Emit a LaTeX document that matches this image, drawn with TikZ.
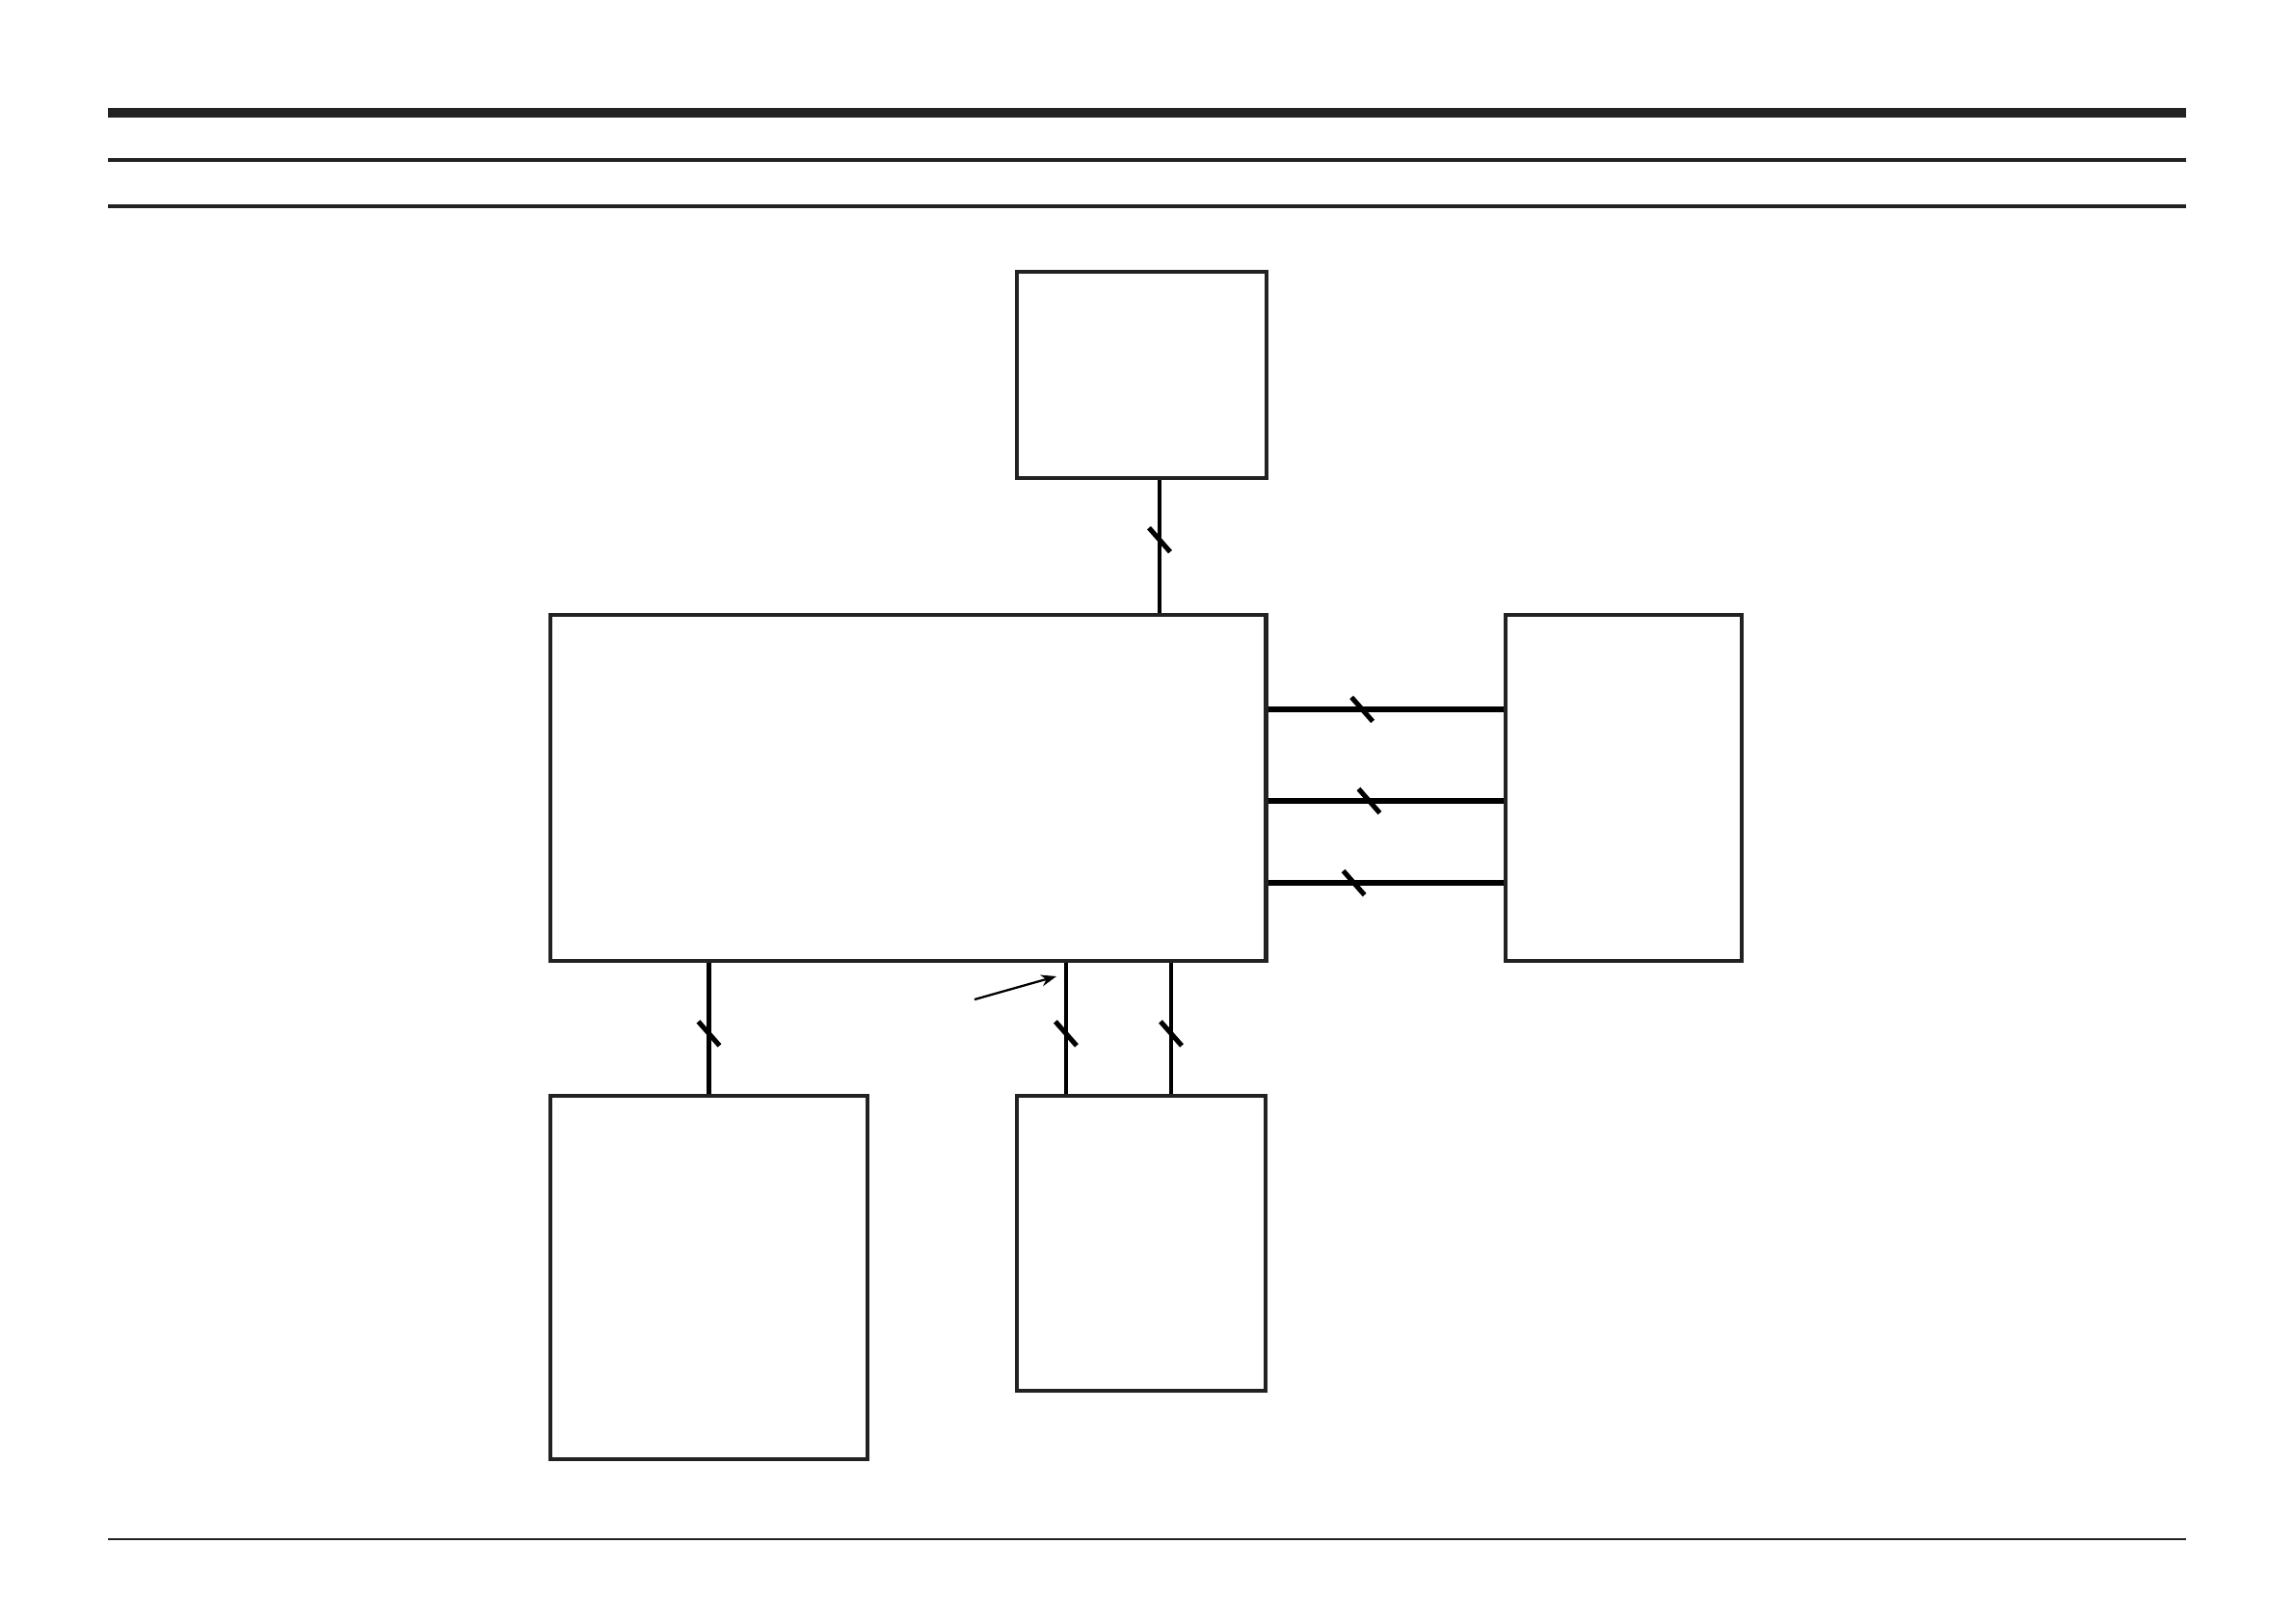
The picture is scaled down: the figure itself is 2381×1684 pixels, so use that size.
\documentclass[tikz,border=0pt]{standalone}
\usetikzlibrary{positioning,arrows.meta,calc}
\definecolor{rulegray}{HTML}{222222}
\newcommand{\buscut}[1]{\draw[cutmark] (#1) +(-11,-12.5) -- +(11,12.5);}
\begin{document}
\begin{tikzpicture}[
    x=0.01cm, y=-0.01cm,
    block/.style={
        rectangle,
        draw=rulegray,
        line width=1.3pt,
        inner sep=0pt
    },
    bus/.style={line width=1.25pt},
    hbus/.style={line width=1.6pt},
    cutmark/.style={line width=1.45pt},
    >=Stealth
]
\useasboundingbox (0,0) rectangle (2381,1684);
% page rules
\draw[rulegray, line width=2.6pt] (112,117) -- (2268,117);
\draw[rulegray, line width=1.2pt] (112,166) -- (2268,166);
\draw[rulegray, line width=1.2pt] (112,214) -- (2268,214);
\draw[rulegray, line width=0.8pt] (112,1597) -- (2268,1597);

% blocks
\node[block, minimum width=2.59cm, minimum height=2.14cm] (display) at (1184.5,389) {};
\node[block, minimum width=7.42cm, minimum height=3.59cm] (cpu) at (942,817.5) {};
\node[block, minimum width=2.45cm, minimum height=3.59cm] (memory) at (1684.5,817.5) {};
\node[block, minimum width=3.29cm, minimum height=3.77cm] (power) at (735.5,1325.5) {};
\node[block, minimum width=2.58cm, minimum height=3.06cm] (io) at (1184,1290) {};

% buses
\draw[bus] ([xshift=0.185cm]display.south) coordinate (d1) -- coordinate[pos=0.45] (k1) (d1 |- cpu.north);
\buscut{k1}
\draw[hbus] ([yshift=0.815cm]cpu.east) coordinate (m1) -- coordinate[pos=0.40] (k2) (m1 -| memory.west);
\draw[hbus] ([yshift=-0.135cm]cpu.east) coordinate (m2) -- coordinate[pos=0.43] (k3) (m2 -| memory.west);
\draw[hbus] ([yshift=-0.985cm]cpu.east) coordinate (m3) -- coordinate[pos=0.365] (k4) (m3 -| memory.west);
\buscut{k2}
\buscut{k3}
\buscut{k4}
\draw[bus] (power.north) -- coordinate[pos=0.46] (k5) (power.north |- cpu.south);
\draw[bus] ([xshift=-0.78cm]io.north) coordinate (i1) -- coordinate[pos=0.46] (k6) (i1 |- cpu.south);
\draw[bus] ([xshift=0.31cm]io.north) coordinate (i2) -- coordinate[pos=0.46] (k7) (i2 |- cpu.south);
\buscut{k5}
\buscut{k6}
\buscut{k7}

% pointer
\coordinate (notetail) at (1011,1037);
\coordinate (notetip) at (1096,1013);
\draw[-{Stealth[length=0.16cm,width=0.12cm]}, line width=0.65pt] (notetail) -- (notetip);
\end{tikzpicture}
\end{document}
